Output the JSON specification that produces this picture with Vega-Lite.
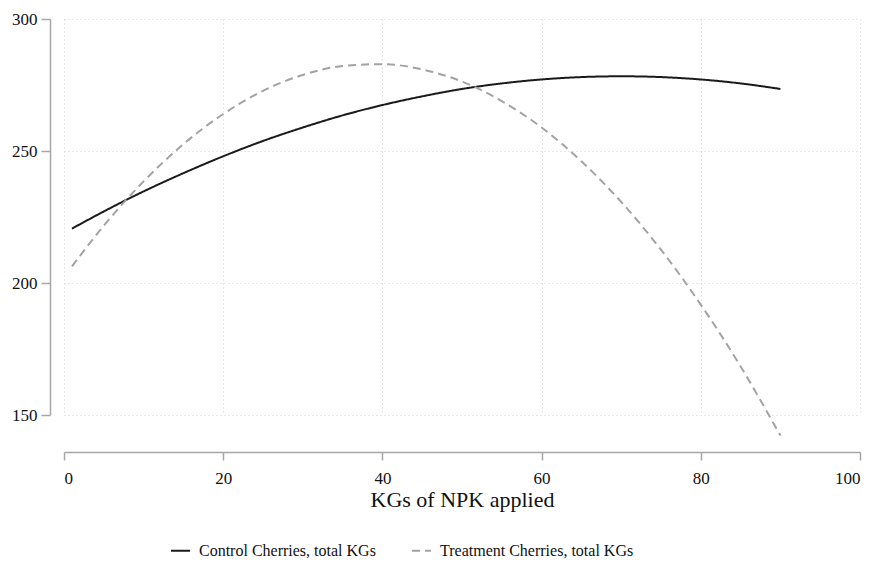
{
  "$schema": "https://vega.github.io/schema/vega-lite/v6.json",
  "autosize": "none",
  "width": 796,
  "height": 396,
  "padding": {"left": 64, "top": 19, "right": 18, "bottom": 149},
  "background": "white",
  "config": {
    "view": {"stroke": null},
    "font": "Liberation Serif",
    "axis": {
      "labelFont": "Liberation Serif",
      "titleFont": "Liberation Serif",
      "labelColor": "#111",
      "titleColor": "#111",
      "domainColor": "#a6a6a6",
      "domainWidth": 1.5,
      "tickColor": "#a6a6a6",
      "tickWidth": 1.5,
      "gridColor": "#cfcfcf",
      "gridDash": [1, 3],
      "gridWidth": 1
    },
    "legend": {"labelFont": "Liberation Serif"}
  },
  "data": {
    "values": [
      {"x": 1, "y": 220.6, "s": "Control Cherries, total KGs"},
      {"x": 5, "y": 227.1, "s": "Control Cherries, total KGs"},
      {"x": 10, "y": 234.7, "s": "Control Cherries, total KGs"},
      {"x": 15, "y": 241.6, "s": "Control Cherries, total KGs"},
      {"x": 20, "y": 248.0, "s": "Control Cherries, total KGs"},
      {"x": 25, "y": 253.8, "s": "Control Cherries, total KGs"},
      {"x": 30, "y": 258.9, "s": "Control Cherries, total KGs"},
      {"x": 35, "y": 263.5, "s": "Control Cherries, total KGs"},
      {"x": 40, "y": 267.4, "s": "Control Cherries, total KGs"},
      {"x": 45, "y": 270.7, "s": "Control Cherries, total KGs"},
      {"x": 50, "y": 273.5, "s": "Control Cherries, total KGs"},
      {"x": 55, "y": 275.6, "s": "Control Cherries, total KGs"},
      {"x": 60, "y": 277.1, "s": "Control Cherries, total KGs"},
      {"x": 65, "y": 278.0, "s": "Control Cherries, total KGs"},
      {"x": 70, "y": 278.3, "s": "Control Cherries, total KGs"},
      {"x": 75, "y": 278.0, "s": "Control Cherries, total KGs"},
      {"x": 80, "y": 277.1, "s": "Control Cherries, total KGs"},
      {"x": 85, "y": 275.6, "s": "Control Cherries, total KGs"},
      {"x": 90, "y": 273.5, "s": "Control Cherries, total KGs"},
      {"x": 1, "y": 206.3, "s": "Treatment Cherries, total KGs"},
      {"x": 5, "y": 221.7, "s": "Treatment Cherries, total KGs"},
      {"x": 10, "y": 238.5, "s": "Treatment Cherries, total KGs"},
      {"x": 15, "y": 252.6, "s": "Treatment Cherries, total KGs"},
      {"x": 20, "y": 264.0, "s": "Treatment Cherries, total KGs"},
      {"x": 25, "y": 272.8, "s": "Treatment Cherries, total KGs"},
      {"x": 30, "y": 278.8, "s": "Treatment Cherries, total KGs"},
      {"x": 35, "y": 282.2, "s": "Treatment Cherries, total KGs"},
      {"x": 40, "y": 282.9, "s": "Treatment Cherries, total KGs"},
      {"x": 45, "y": 280.9, "s": "Treatment Cherries, total KGs"},
      {"x": 50, "y": 276.3, "s": "Treatment Cherries, total KGs"},
      {"x": 55, "y": 268.9, "s": "Treatment Cherries, total KGs"},
      {"x": 60, "y": 258.9, "s": "Treatment Cherries, total KGs"},
      {"x": 65, "y": 246.1, "s": "Treatment Cherries, total KGs"},
      {"x": 70, "y": 230.7, "s": "Treatment Cherries, total KGs"},
      {"x": 75, "y": 212.6, "s": "Treatment Cherries, total KGs"},
      {"x": 80, "y": 191.8, "s": "Treatment Cherries, total KGs"},
      {"x": 85, "y": 168.4, "s": "Treatment Cherries, total KGs"},
      {"x": 90, "y": 142.2, "s": "Treatment Cherries, total KGs"}
    ]
  },
  "mark": {"type": "line", "interpolate": "monotone", "strokeWidth": 2},
  "encoding": {
    "x": {
      "field": "x",
      "type": "quantitative",
      "scale": {"domain": [0, 100], "nice": false, "zero": false},
      "axis": {
        "title": "KGs of NPK applied",
        "values": [0, 20, 40, 60, 80, 100],
        "offset": 37,
        "tickSize": 8,
        "labelPadding": 10,
        "labelFontSize": 17,
        "titleFontSize": 22,
        "titleFontWeight": "normal",
        "titlePadding": 3
      }
    },
    "y": {
      "field": "y",
      "type": "quantitative",
      "scale": {"domain": [150, 300], "nice": false, "zero": false},
      "axis": {
        "title": null,
        "values": [150, 200, 250, 300],
        "offset": 14,
        "tickSize": 9,
        "labelPadding": 4,
        "labelFontSize": 17
      }
    },
    "color": {
      "field": "s",
      "type": "nominal",
      "scale": {"domain": ["Control Cherries, total KGs", "Treatment Cherries, total KGs"], "range": ["#1a1a1a", "#a3a3a3"]},
      "legend": {
        "title": null,
        "orient": "none",
        "direction": "horizontal",
        "legendX": 106,
        "legendY": 521,
        "symbolType": "stroke",
        "symbolSize": 360,
        "symbolStrokeWidth": 2,
        "labelFontSize": 16,
        "labelLimit": 0,
        "labelColor": "#111",
        "labelOffset": 8,
        "columnPadding": 32
      }
    },
    "strokeDash": {
      "field": "s",
      "type": "nominal",
      "scale": {"domain": ["Control Cherries, total KGs", "Treatment Cherries, total KGs"], "range": [[1, 0], [8, 5]]},
      "legend": null
    }
  }
}
